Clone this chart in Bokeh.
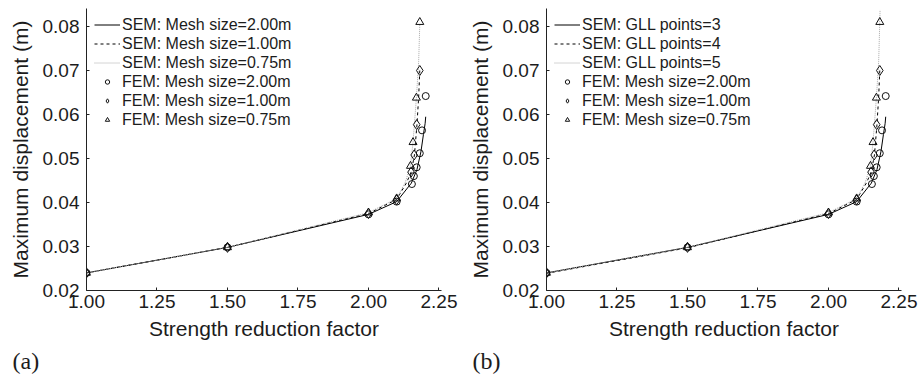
from bokeh.plotting import figure
from bokeh.models import Range1d, Legend, LegendItem, Title, FixedTicker, CustomJSTickFormatter
from bokeh.layouts import row
from bokeh.embed import file_html
from bokeh.resources import INLINE

# ---------------- data ----------------
x_ticks = [1.00, 1.25, 1.50, 1.75, 2.00, 2.25]
y_ticks = [0.02, 0.03, 0.04, 0.05, 0.06, 0.07, 0.08]

# FEM results (same in both panels)
fem_2_x = [1.0, 1.5, 2.0, 2.1, 2.154, 2.161, 2.171, 2.182, 2.190, 2.203]
fem_2_y = [0.0240, 0.0298, 0.0373, 0.0402, 0.0442, 0.0460, 0.0480, 0.0512, 0.0564, 0.0642]
fem_1_x = [1.0, 1.5, 2.0, 2.1, 2.151, 2.162, 2.171, 2.182]
fem_1_y = [0.0240, 0.0298, 0.0375, 0.0406, 0.0469, 0.0508, 0.0577, 0.0700]
fem_075_x = [1.0, 1.5, 2.0, 2.1, 2.149, 2.158, 2.170, 2.182]
fem_075_y = [0.0240, 0.0298, 0.0377, 0.0409, 0.0483, 0.0537, 0.0638, 0.0810]

# (a) SEM, varying mesh size
sem_a_2_x = [1.0, 1.5, 2.0, 2.1, 2.152, 2.172, 2.186, 2.195, 2.201, 2.203]
sem_a_2_y = [0.0240, 0.0298, 0.0373, 0.0402, 0.0444, 0.0475, 0.0515, 0.0555, 0.0580, 0.0595]
sem_a_1_x = [1.0, 1.5, 2.0, 2.1, 2.135, 2.152, 2.163, 2.172, 2.178, 2.182]
sem_a_1_y = [0.0240, 0.0298, 0.0375, 0.0407, 0.0445, 0.0470, 0.0508, 0.0577, 0.0640, 0.0700]
sem_a_075_x = [1.0, 1.5, 2.0, 2.1, 2.130, 2.149, 2.158, 2.170, 2.178, 2.182]
sem_a_075_y = [0.0240, 0.0298, 0.0377, 0.0409, 0.0445, 0.0483, 0.0537, 0.0638, 0.0720, 0.0805]

# (b) SEM, varying GLL points
sem_b_3_x = [1.0, 1.5, 2.0, 2.1, 2.152, 2.172, 2.186, 2.195, 2.201, 2.203]
sem_b_3_y = [0.0240, 0.0298, 0.0373, 0.0402, 0.0444, 0.0475, 0.0515, 0.0555, 0.0580, 0.0595]
sem_b_4_x = [1.0, 1.5, 2.0, 2.1, 2.135, 2.152, 2.163, 2.172, 2.178, 2.182]
sem_b_4_y = [0.0239, 0.0297, 0.0375, 0.0407, 0.0445, 0.0470, 0.0508, 0.0577, 0.0640, 0.0700]
sem_b_5_x = [1.0, 1.5, 2.0, 2.1, 2.130, 2.149, 2.158, 2.170, 2.178, 2.182, 2.183]
sem_b_5_y = [0.0240, 0.0298, 0.0377, 0.0409, 0.0445, 0.0483, 0.0537, 0.0638, 0.0720, 0.0810, 0.0838]

labels_a = ["SEM: Mesh size=2.00m", "SEM: Mesh size=1.00m", "SEM: Mesh size=0.75m"]
labels_b = ["SEM: GLL points=3", "SEM: GLL points=4", "SEM: GLL points=5"]
labels_fem = ["FEM: Mesh size=2.00m", "FEM: Mesh size=1.00m", "FEM: Mesh size=0.75m"]

SANS = "Liberation Sans"
TXT = "#1c1c1c"


def make_panel(tag, lines, line_labels):
    p = figure(width=460, height=377,
               x_range=Range1d(1.0, 2.259), y_range=Range1d(0.02, 0.0841),
               output_backend="svg", toolbar_location=None,
               min_border_left=86, min_border_top=8, min_border_right=19,
               min_border_bottom=10)
    p.frame_width = 355
    p.frame_height = 282
    p.outline_line_color = None
    p.xgrid.visible = False
    p.ygrid.visible = False
    p.background_fill_color = "white"
    p.border_fill_color = "white"

    for ax in (p.xaxis[0], p.yaxis[0]):
        ax.axis_line_color = "#222222"
        ax.major_tick_line_color = "#222222"
        ax.major_tick_in = 3
        ax.major_tick_out = 0
        ax.minor_tick_line_color = None
        ax.major_label_text_font = SANS
        ax.major_label_text_font_size = "19px"
        ax.major_label_text_color = TXT
        ax.axis_label_text_font = SANS
        ax.axis_label_text_font_size = "21px"
        ax.axis_label_text_font_style = "normal"
        ax.axis_label_text_color = TXT
    p.xaxis.ticker = FixedTicker(ticks=x_ticks)
    p.yaxis.ticker = FixedTicker(ticks=y_ticks)
    p.xaxis.formatter = CustomJSTickFormatter(code="return tick.toFixed(2);")
    p.yaxis.formatter = CustomJSTickFormatter(code="return tick.toFixed(2);")
    p.xaxis.axis_label = "Strength reduction factor"
    p.yaxis.axis_label = "Maximum displacement (m)"
    p.xaxis.major_label_standoff = 4
    p.yaxis.major_label_standoff = 7
    p.xaxis.axis_label_standoff = 6
    p.yaxis.axis_label_standoff = 8

    styles = [dict(line_color="black", line_width=1),
              dict(line_color="black", line_width=1, line_dash="3 3"),
              dict(line_color="#a8a8a8", line_width=1, line_dash="1 1")]
    items = []
    for (xs, ys), st, lab in zip(lines, styles, line_labels):
        r = p.line(xs, ys, **st)
        items.append(LegendItem(label=lab, renderers=[r]))

    fems = [(fem_2_x, fem_2_y, "circle", 7), (fem_1_x, fem_1_y, "diamond", 10),
            (fem_075_x, fem_075_y, "triangle", 8)]
    for (xs, ys, mk, sz), lab in zip(fems, labels_fem):
        r = p.scatter(xs, ys, marker=mk, size=sz, fill_color=None,
                      line_color="#111111", line_width=1)
        items.append(LegendItem(label=lab, renderers=[r]))

    leg = Legend(items=items, location=(8, 161), orientation="vertical",
                 padding=0, margin=0, spacing=0, label_height=19, glyph_height=11,
                 glyph_width=26, label_standoff=2,
                 label_text_font=SANS, label_text_font_size="16px",
                 label_text_color=TXT, border_line_color=None,
                 background_fill_alpha=0)
    p.add_layout(leg, "center")

    t = Title(text=tag, align="left", offset=-74, text_font="Liberation Serif",
              text_font_size="24px", text_font_style="normal", text_color=TXT,
              standoff=6)
    p.add_layout(t, "below")
    return p


pa = make_panel("(a)", [(sem_a_2_x, sem_a_2_y), (sem_a_1_x, sem_a_1_y),
                        (sem_a_075_x, sem_a_075_y)], labels_a)
pb = make_panel("(b)", [(sem_b_3_x, sem_b_3_y), (sem_b_4_x, sem_b_4_y),
                        (sem_b_5_x, sem_b_5_y)], labels_b)

layout = row(pa, pb, spacing=0)
open("out.html", "w").write(file_html(layout, INLINE))
